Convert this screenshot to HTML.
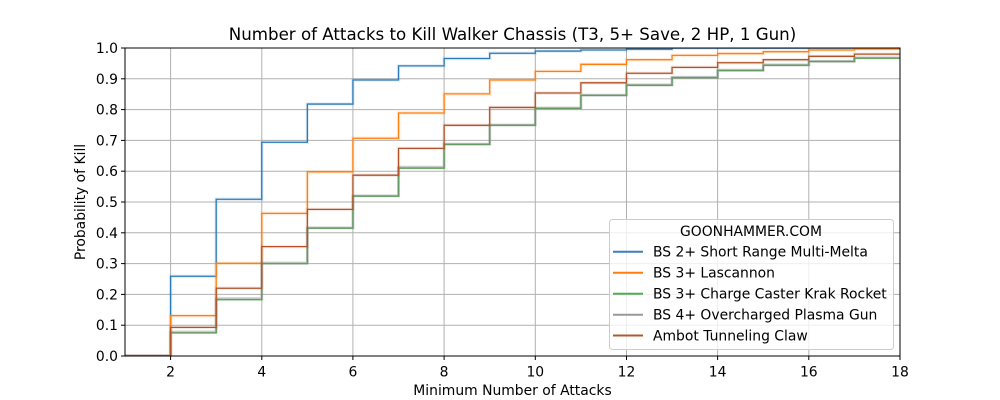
<!DOCTYPE html>
<html><head><meta charset="utf-8"><style>
html,body{margin:0;padding:0;background:#fff;}
svg{display:block;font-family:"DejaVu Sans","Liberation Sans",sans-serif;}
</style></head><body>
<svg width="1000" height="400" viewBox="0 0 1000 400" xmlns="http://www.w3.org/2000/svg">
<rect width="1000" height="400" fill="#fff"/>
<defs><clipPath id="c"><rect x="125" y="48" width="775" height="308"/></clipPath></defs>
<!-- grid -->
<g stroke="#b0b0b0" stroke-width="1">
<line x1="170.6" y1="48" x2="170.6" y2="356"/>
<line x1="261.8" y1="48" x2="261.8" y2="356"/>
<line x1="352.9" y1="48" x2="352.9" y2="356"/>
<line x1="444.1" y1="48" x2="444.1" y2="356"/>
<line x1="535.3" y1="48" x2="535.3" y2="356"/>
<line x1="626.5" y1="48" x2="626.5" y2="356"/>
<line x1="717.6" y1="48" x2="717.6" y2="356"/>
<line x1="808.8" y1="48" x2="808.8" y2="356"/>
<line x1="125" y1="325.2" x2="900" y2="325.2"/>
<line x1="125" y1="294.4" x2="900" y2="294.4"/>
<line x1="125" y1="263.6" x2="900" y2="263.6"/>
<line x1="125" y1="232.8" x2="900" y2="232.8"/>
<line x1="125" y1="202" x2="900" y2="202"/>
<line x1="125" y1="171.2" x2="900" y2="171.2"/>
<line x1="125" y1="140.4" x2="900" y2="140.4"/>
<line x1="125" y1="109.6" x2="900" y2="109.6"/>
<line x1="125" y1="78.8" x2="900" y2="78.8"/>
</g>
<g clip-path="url(#c)">
<g transform="translate(125,356) scale(45.5882,-308) translate(-1,0)" fill="none" stroke-linejoin="miter">
<path d="M1 0 H2 V.259 H3 V.509 H4 V.694 H5 V.818 H6 V.896 H7 V.942 H8 V.966 H9 V.983 H10 V.990 H11 V.9935 H12 V.996 H13 V.9995 H18" stroke="#1f77b4" stroke-opacity="0.12" stroke-width="3.5" vector-effect="non-scaling-stroke"/>
<path d="M1 0 H2 V.259 H3 V.509 H4 V.694 H5 V.818 H6 V.896 H7 V.942 H8 V.966 H9 V.983 H10 V.990 H11 V.9935 H12 V.996 H13 V.9995 H18" stroke="#2a7ab8" stroke-width="1.3" vector-effect="non-scaling-stroke"/>
<path d="M1 0 H2 V.131 H3 V.301 H4 V.463 H5 V.598 H6 V.707 H7 V.789 H8 V.851 H9 V.896 H10 V.924 H11 V.947 H12 V.962 H13 V.976 H14 V.982 H15 V.988 H16 V.9935 H17 V.997 H18" stroke="#ff7f0e" stroke-opacity="0.15" stroke-width="3.5" vector-effect="non-scaling-stroke"/>
<path d="M1 0 H2 V.131 H3 V.301 H4 V.463 H5 V.598 H6 V.707 H7 V.789 H8 V.851 H9 V.896 H10 V.924 H11 V.947 H12 V.962 H13 V.976 H14 V.982 H15 V.988 H16 V.9935 H17 V.997 H18" stroke="#ff7f0e" stroke-width="1.3" vector-effect="non-scaling-stroke"/>
<path d="M1 0 H2 V.075 H3 V.183 H4 V.300 H5 V.415 H6 V.519 H7 V.610 H8 V.687 H9 V.749 H10 V.804 H11 V.846 H12 V.879 H13 V.904 H14 V.927 H15 V.944 H16 V.956 H17 V.967 H18" stroke="#4aaa4a" stroke-width="1.5" vector-effect="non-scaling-stroke"/>
<path d="M1 0 H2 V.078 H3 V.186 H4 V.302 H5 V.416 H6 V.520 H7 V.613 H8 V.688 H9 V.750 H10 V.805 H11 V.847 H12 V.880 H13 V.905 H14 V.928 H15 V.945 H16 V.957 H17 V.968 H18" stroke="#8a8a8a" stroke-opacity="0.45" stroke-width="2.8" vector-effect="non-scaling-stroke"/>
<path d="M1 0 H2 V.093 H3 V.220 H4 V.355 H5 V.476 H6 V.587 H7 V.674 H8 V.749 H9 V.807 H10 V.854 H11 V.887 H12 V.918 H13 V.937 H14 V.952 H15 V.962 H16 V.973 H17 V.980 H18" stroke="#b0542a" stroke-opacity="0.13" stroke-width="3.5" vector-effect="non-scaling-stroke"/>
<path d="M1 0 H2 V.093 H3 V.220 H4 V.355 H5 V.476 H6 V.587 H7 V.674 H8 V.749 H9 V.807 H10 V.854 H11 V.887 H12 V.918 H13 V.937 H14 V.952 H15 V.962 H16 V.973 H17 V.980 H18" stroke="#b0542a" stroke-width="1.3" vector-effect="non-scaling-stroke"/>
</g>
</g>
<!-- spines -->
<rect x="125" y="48" width="775" height="308" fill="none" stroke="#000" stroke-width="1"/>
<!-- ticks -->
<g stroke="#000" stroke-width="1">
<line x1="170.6" y1="356" x2="170.6" y2="360"/>
<line x1="261.8" y1="356" x2="261.8" y2="360"/>
<line x1="352.9" y1="356" x2="352.9" y2="360"/>
<line x1="444.1" y1="356" x2="444.1" y2="360"/>
<line x1="535.3" y1="356" x2="535.3" y2="360"/>
<line x1="626.5" y1="356" x2="626.5" y2="360"/>
<line x1="717.6" y1="356" x2="717.6" y2="360"/>
<line x1="808.8" y1="356" x2="808.8" y2="360"/>
<line x1="900" y1="356" x2="900" y2="360"/>
<line x1="121" y1="356" x2="125" y2="356"/>
<line x1="121" y1="325.2" x2="125" y2="325.2"/>
<line x1="121" y1="294.4" x2="125" y2="294.4"/>
<line x1="121" y1="263.6" x2="125" y2="263.6"/>
<line x1="121" y1="232.8" x2="125" y2="232.8"/>
<line x1="121" y1="202" x2="125" y2="202"/>
<line x1="121" y1="171.2" x2="125" y2="171.2"/>
<line x1="121" y1="140.4" x2="125" y2="140.4"/>
<line x1="121" y1="109.6" x2="125" y2="109.6"/>
<line x1="121" y1="78.8" x2="125" y2="78.8"/>
<line x1="121" y1="48" x2="125" y2="48"/>
</g>
<g font-size="13.9" fill="#000" text-anchor="middle">
<text x="170.6" y="376.5">2</text>
<text x="261.8" y="376.5">4</text>
<text x="352.9" y="376.5">6</text>
<text x="444.1" y="376.5">8</text>
<text x="535.3" y="376.5">10</text>
<text x="626.5" y="376.5">12</text>
<text x="717.6" y="376.5">14</text>
<text x="808.8" y="376.5">16</text>
<text x="900" y="376.5">18</text>
</g>
<g font-size="13.9" fill="#000" text-anchor="end">
<text x="118" y="361">0.0</text>
<text x="118" y="330.2">0.1</text>
<text x="118" y="299.4">0.2</text>
<text x="118" y="268.6">0.3</text>
<text x="118" y="237.8">0.4</text>
<text x="118" y="207">0.5</text>
<text x="118" y="176.2">0.6</text>
<text x="118" y="145.4">0.7</text>
<text x="118" y="114.6">0.8</text>
<text x="118" y="83.8">0.9</text>
<text x="118" y="53">1.0</text>
</g>
<text x="512.5" y="395" font-size="13.9" text-anchor="middle">Minimum Number of Attacks</text>
<text transform="translate(85,202) rotate(-90)" font-size="13.9" text-anchor="middle">Probability of Kill</text>
<text x="512.5" y="40" font-size="16.67" text-anchor="middle">Number of Attacks to Kill Walker Chassis (T3, 5+ Save, 2 HP, 1 Gun)</text>
<!-- legend -->
<rect x="609.5" y="219.5" width="284" height="130" rx="3" fill="#fff" fill-opacity="0.8" stroke="#cccccc" stroke-width="1"/>
<text x="751" y="236" font-size="13.9" text-anchor="middle">GOONHAMMER.COM</text>
<g stroke-width="2">
<line x1="613" y1="251.7" x2="643" y2="251.7" stroke="#3a7fc0"/>
<line x1="613" y1="272.7" x2="643" y2="272.7" stroke="#ff7f0e"/>
<line x1="613" y1="293.7" x2="643" y2="293.7" stroke="#4eae4e"/>
<line x1="613" y1="314.7" x2="643" y2="314.7" stroke="#999999"/>
<line x1="613" y1="335.5" x2="643" y2="335.5" stroke="#b0582e"/>
</g>
<g font-size="13.9" fill="#000">
<text x="653" y="256.7">BS 2+ Short Range Multi-Melta</text>
<text x="653" y="277.7">BS 3+ Lascannon</text>
<text x="653" y="298.7">BS 3+ Charge Caster Krak Rocket</text>
<text x="653" y="319.7">BS 4+ Overcharged Plasma Gun</text>
<text x="653" y="340.5">Ambot Tunneling Claw</text>
</g>
</svg>
</body></html>
